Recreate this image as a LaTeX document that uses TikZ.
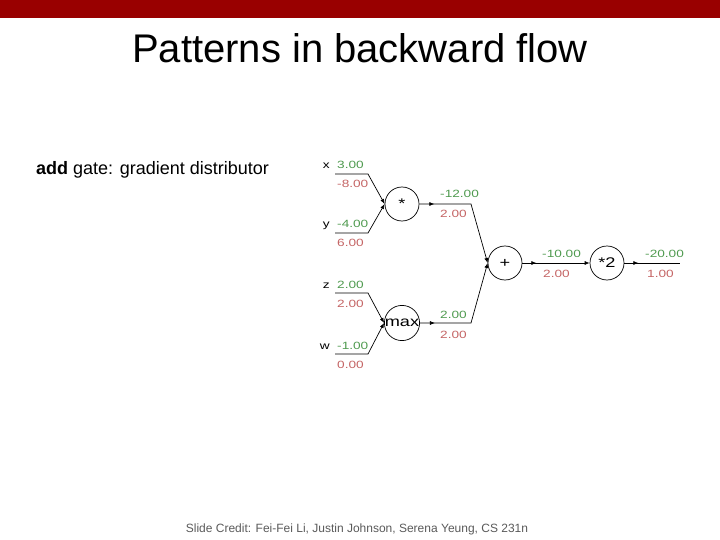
\documentclass[tikz,border=0pt]{standalone}
\usepackage{fontspec}
\usepackage{graphicx}
\setmainfont{Liberation Sans}
\usetikzlibrary{arrows.meta, decorations.markings}
\definecolor{cBar}{HTML}{990000}
\definecolor{cFwd}{HTML}{4F9A4F}
\definecolor{cBwd}{HTML}{C46464}
\definecolor{cCredit}{HTML}{5A5A5A}
% texto del grafo, algo ensanchado
\newcommand\widetxt[1]{\scalebox{1.3}[1]{#1}}

\begin{document}
\begin{tikzpicture}[
    x=1pt, y=-1pt,
    gate/.style={draw, circle, minimum size=34pt, inner sep=0pt,
                 line width=0.7pt, fill=white, font=\fontsize{14}{16}\selectfont},
    wire/.style={line width=0.7pt},
    tip/.style={-{Latex[length=5pt, width=4pt]}},
    midtip/.style={postaction={decorate}, decoration={markings,
                   mark=at position #1 with {\arrow{Latex[length=5pt, width=4pt]}}}},
    fwd/.style={anchor=base west, inner sep=0pt, text=cFwd,
                font=\fontsize{10.5}{12}\selectfont},
    bwd/.style={anchor=base west, inner sep=0pt, text=cBwd,
                font=\fontsize{10.5}{12}\selectfont},
    var/.style={anchor=base east, inner sep=0pt,
                font=\fontsize{10.5}{12}\selectfont},
]
\useasboundingbox (0,0) rectangle (720,540);

% ---------------------------------------------------------------------------
% cabecera
% ---------------------------------------------------------------------------
\fill[cBar] (0,0) rectangle (720,18);
\node[anchor=base, inner sep=0pt, font=\fontsize{40}{48}\selectfont]
      (title) at (360,63) {Patterns in backward flow};

\node[anchor=base west, inner sep=0pt, font=\fontsize{18}{22}\selectfont]
      (note) at (36,175) {\textbf{add} gate: gradient distributor};

% ---------------------------------------------------------------------------
% puertas
% ---------------------------------------------------------------------------
\node[gate] (mul) at (402,204) {\widetxt{*}};
\node[gate] (mx)  at (402,323) {\widetxt{max}};
\node[gate] (add) at (505,263) {\widetxt{+}};
\node[gate] (dbl) at (607,263) {\widetxt{*2}};

% ----- entradas x, y, z, w -----
\foreach \n/\y/\f/\b/\g in {x/174/3.00/-8.00/mul, y/233/-4.00/6.00/mul,
                            z/293/2.00/2.00/mx, w/354/-1.00/0.00/mx} {
    \coordinate (s\n) at (335,\y);
    \coordinate (k\n) at (368,\y);
    \node[var] (l\n) at (330,\y-5) {\widetxt{\n}};
    \node[fwd] (f\n) at (337,\y-5) {\widetxt{\f}};
    \node[bwd] (b\n) at (337,\y+14) {\widetxt{\b}};
    \draw[wire, tip] (s\n) -- (k\n) -- (\g.west);
}

% ----- salida de * y de max hacia + -----
\coordinate (jmul) at (471,204);
\coordinate (jmx)  at (471,323);
\draw[wire, tip, midtip=15pt] (mul.east) -- (jmul) -- (add.west);
\draw[wire, tip, midtip=15pt] (mx.east) -- (jmx) -- (add.west);
\node[fwd] (fmul) at (440,198) {\widetxt{-12.00}};
\node[bwd] (bmul) at (440,218) {\widetxt{2.00}};
\node[fwd] (fmx)  at (440,318) {\widetxt{2.00}};
\node[bwd] (bmx)  at (440,338) {\widetxt{2.00}};

% ----- + hacia *2 -----
\draw[wire, tip, midtip=14pt] (add.east) -- (dbl.west);
\node[fwd] (fadd) at (542,258) {\widetxt{-10.00}};
\node[bwd] (badd) at (543,277) {\widetxt{2.00}};

% ----- salida final -----
\coordinate (out) at (680,263);
\draw[wire, midtip=14pt] (dbl.east) -- (out);
\node[fwd] (fout) at (645,258) {\widetxt{-20.00}};
\node[bwd] (bout) at (647,277) {\widetxt{1.00}};

% ---------------------------------------------------------------------------
% pie
% ---------------------------------------------------------------------------
\node[anchor=base, inner sep=0pt, text=cCredit, font=\fontsize{12}{14}\selectfont]
      (credit) at (357,532)
      {Slide Credit: Fei-Fei Li, Justin Johnson, Serena Yeung, CS 231n};

\end{tikzpicture}
\end{document}
